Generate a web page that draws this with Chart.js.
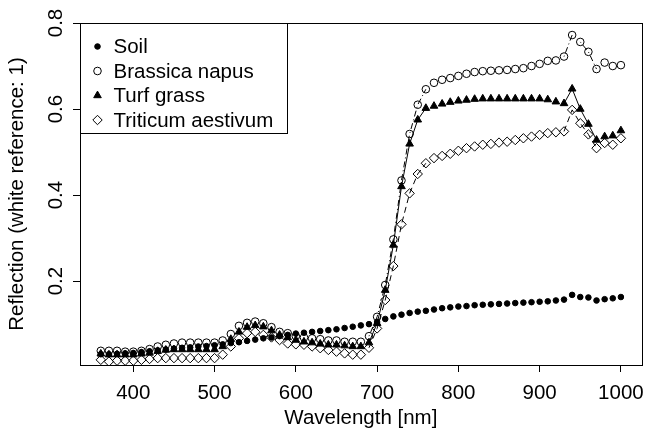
<!DOCTYPE html>
<html>
<head>
<meta charset="utf-8">
<script src="https://cdn.jsdelivr.net/npm/chart.js@4/dist/chart.umd.min.js"></script>
<style>
  html, body { margin: 0; padding: 0; background: #fff; }
  canvas { display: block; }
</style>
</head>
<body>
<canvas id="chart" width="653" height="431"></canvas>
<script>
'use strict';

// Wavelength grid (nm)
const wavelengths = [
    360, 370, 380, 390, 400, 410, 420, 430, 440, 450,
    460, 470, 480, 490, 500, 510, 520, 530, 540, 550,
    560, 570, 580, 590, 600, 610, 620, 630, 640, 650,
    660, 670, 680, 690, 700, 710, 720, 730, 740, 750,
    760, 770, 780, 790, 800, 810, 820, 830, 840, 850,
    860, 870, 880, 890, 900, 910, 920, 930, 940, 950,
    960, 970, 980, 990, 1000
];

const soil = [
    0.030, 0.030, 0.031, 0.032, 0.033, 0.035, 0.037, 0.039, 0.041, 0.043,
    0.045, 0.046, 0.048, 0.049, 0.051, 0.053, 0.056, 0.058, 0.061, 0.064,
    0.067, 0.069, 0.072, 0.075, 0.078, 0.080, 0.082, 0.084, 0.086, 0.088,
    0.091, 0.094, 0.097, 0.100, 0.105, 0.112, 0.118, 0.122, 0.126, 0.129,
    0.131, 0.134, 0.137, 0.139, 0.141, 0.142, 0.144, 0.145, 0.146, 0.147,
    0.148, 0.149, 0.150, 0.151, 0.152, 0.153, 0.155, 0.157, 0.168, 0.163,
    0.162, 0.155, 0.158, 0.160, 0.163
];

const brassica = [
    0.038, 0.038, 0.038, 0.036, 0.036, 0.038, 0.042, 0.048, 0.052, 0.055,
    0.057, 0.057, 0.057, 0.057, 0.057, 0.062, 0.077, 0.096, 0.103, 0.106,
    0.102, 0.093, 0.082, 0.079, 0.072, 0.069, 0.067, 0.065, 0.062, 0.062,
    0.059, 0.059, 0.059, 0.072, 0.117, 0.191, 0.297, 0.434, 0.542, 0.610,
    0.646, 0.661, 0.668, 0.672, 0.677, 0.682, 0.686, 0.688, 0.689, 0.690,
    0.691, 0.693, 0.695, 0.700, 0.705, 0.712, 0.713, 0.722, 0.772, 0.756,
    0.733, 0.693, 0.708, 0.700, 0.702
];

const turf = [
    0.031, 0.029, 0.029, 0.029, 0.029, 0.031, 0.033, 0.037, 0.040, 0.041,
    0.041, 0.041, 0.041, 0.041, 0.041, 0.048, 0.065, 0.082, 0.093, 0.097,
    0.094, 0.085, 0.075, 0.069, 0.063, 0.059, 0.057, 0.054, 0.052, 0.052,
    0.050, 0.048, 0.048, 0.057, 0.102, 0.179, 0.284, 0.420, 0.519, 0.575,
    0.602, 0.607, 0.612, 0.616, 0.619, 0.621, 0.623, 0.624, 0.624, 0.624,
    0.624, 0.624, 0.624, 0.624, 0.624, 0.622, 0.617, 0.613, 0.647, 0.600,
    0.565, 0.528, 0.536, 0.538, 0.550
];

const triticum = [
    0.017, 0.013, 0.015, 0.015, 0.015, 0.017, 0.019, 0.021, 0.021, 0.021,
    0.021, 0.021, 0.021, 0.021, 0.021, 0.029, 0.048, 0.067, 0.079, 0.082,
    0.075, 0.069, 0.063, 0.055, 0.053, 0.052, 0.048, 0.044, 0.040, 0.036,
    0.032, 0.029, 0.029, 0.045, 0.090, 0.156, 0.235, 0.332, 0.404, 0.449,
    0.474, 0.486, 0.491, 0.496, 0.503, 0.509, 0.513, 0.517, 0.519, 0.522,
    0.524, 0.528, 0.532, 0.536, 0.540, 0.544, 0.546, 0.548, 0.598, 0.567,
    0.541, 0.509, 0.521, 0.517, 0.532
];

const seriesNames = ['Soil', 'Brassica napus', 'Turf grass', 'Triticum aestivum'];
const xTicks = [400, 500, 600, 700, 800, 900, 1000];
const yTicks = [0.2, 0.4, 0.6, 0.8];

const FONT = "'Liberation Sans', Arial, Helvetica, sans-serif";
const FONT_SIZE = 20.5;

Chart.defaults.font.family = FONT;
Chart.defaults.font.size = FONT_SIZE;
Chart.defaults.color = '#000';

// like R type="b": only draw the joining segment when points are far enough apart
function segColor(ctx) {
    const dx = ctx.p1.x - ctx.p0.x;
    const dy = ctx.p1.y - ctx.p0.y;
    return Math.hypot(dx, dy) > 12.5 ? '#000' : 'rgba(0,0,0,0)';
}

function makeSeries(label, values, style) {
    return Object.assign({
        label: label,
        data: values.map((v, i) => ({ x: wavelengths[i], y: v })),
        borderColor: '#000',
        borderWidth: 1,
        pointBorderColor: '#000',
        pointBorderWidth: 1,
        pointHoverRadius: 0,
        tension: 0,
        fill: false,
        segment: { borderColor: segColor }
    }, style);
}

// plot frame (R box())
const plotBox = {
    id: 'plotBox',
    afterDatasetsDraw(chart) {
        const { ctx, chartArea: a } = chart;
        ctx.save();
        ctx.strokeStyle = '#000';
        ctx.lineWidth = 1;
        ctx.strokeRect(Math.round(a.left) + 0.5, Math.round(a.top) + 0.5,
            Math.round(a.right - a.left), Math.round(a.bottom - a.top));
        ctx.restore();
    }
};

// boxed legend in the top-left corner of the plot
const legendBox = {
    id: 'legendBox',
    afterDatasetsDraw(chart) {
        const { ctx, chartArea: a } = chart;
        const x0 = Math.round(a.left) + 0.5;
        const y0 = Math.round(a.top) + 0.5;
        ctx.save();
        ctx.strokeStyle = '#000';
        ctx.lineWidth = 1;
        ctx.strokeRect(x0, y0, 207, 110);
        ctx.font = FONT_SIZE + 'px ' + FONT;
        ctx.textBaseline = 'middle';
        ctx.textAlign = 'left';
        chart.data.datasets.forEach((ds, i) => {
            const y = y0 + 23 + i * 24.5;
            ctx.fillStyle = ds.pointBackgroundColor;
            ctx.strokeStyle = '#000';
            Chart.helpers.drawPoint(ctx, {
                pointStyle: ds.pointStyle,
                radius: ds.pointRadius,
                borderWidth: 1,
                rotation: 0
            }, x0 + 17, y);
            ctx.fillStyle = '#000';
            ctx.fillText(ds.label, x0 + 33, y + 1);
        });
        ctx.restore();
    }
};

new Chart(document.getElementById('chart'), {
    type: 'line',
    data: {
        datasets: [
            makeSeries(seriesNames[0], soil, {
                pointStyle: 'circle', pointRadius: 2.8, pointBackgroundColor: '#000'
            }),
            makeSeries(seriesNames[1], brassica, {
                pointStyle: 'circle', pointRadius: 3.8, pointBackgroundColor: 'rgba(0,0,0,0)',
                borderDash: [1, 3, 6, 3]
            }),
            makeSeries(seriesNames[2], turf, {
                pointStyle: 'triangle', pointRadius: 4.4, pointBackgroundColor: '#000'
            }),
            makeSeries(seriesNames[3], triticum, {
                pointStyle: 'rectRot', pointRadius: 4.7, pointBackgroundColor: 'rgba(0,0,0,0)',
                borderDash: [6, 4]
            })
        ]
    },
    options: {
        responsive: false,
        animation: false,
        devicePixelRatio: 1,
        layout: { padding: { top: 23, right: 8, left: 0, bottom: 0 } },
        scales: {
            x: {
                type: 'linear',
                min: 334.4,
                max: 1025.6,
                afterBuildTicks: s => { s.ticks = xTicks.map(v => ({ value: v })); },
                afterFit: s => { s.height = 66; },
                grid: { drawOnChartArea: false, drawTicks: true, tickLength: 7, color: '#000', lineWidth: 1 },
                border: { display: false },
                ticks: { padding: 9, maxRotation: 0, color: '#000', callback: v => String(v) },
                title: { display: true, text: 'Wavelength [nm]', padding: { top: 0, bottom: 0 }, color: '#000' }
            },
            y: {
                type: 'linear',
                min: 0.005,
                max: 0.8,
                afterBuildTicks: s => { s.ticks = yTicks.map(v => ({ value: v })); },
                afterFit: s => { s.width = 80; },
                grid: { drawOnChartArea: false, drawTicks: true, tickLength: 7, color: '#000', lineWidth: 1 },
                border: { display: false },
                ticks: {
                    minRotation: 90, maxRotation: 90, crossAlign: 'center', padding: 2,
                    color: '#000', callback: v => v.toFixed(1)
                },
                title: { display: true, text: 'Reflection (white reference: 1)', padding: { top: 5, bottom: 0 }, color: '#000' }
            }
        },
        plugins: {
            legend: { display: false },
            tooltip: { enabled: false }
        }
    },
    plugins: [plotBox, legendBox]
});
</script>
</body>
</html>
